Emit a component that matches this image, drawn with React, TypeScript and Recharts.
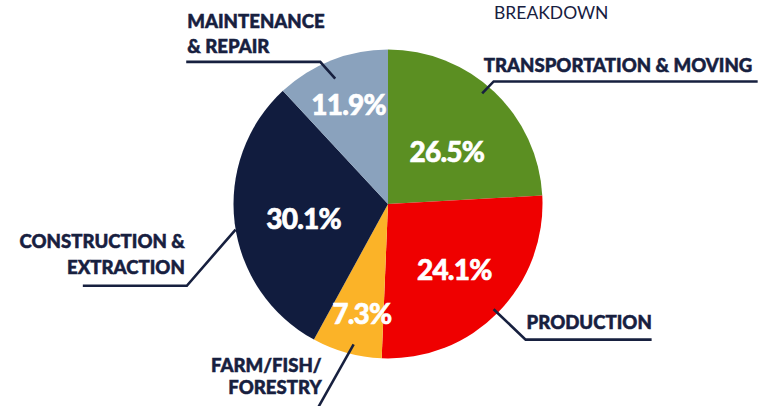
import React from "react";
import { PieChart, Pie, Cell } from "recharts";

const categories = [
  "TRANSPORTATION & MOVING",
  "PRODUCTION",
  "FARM/FISH/FORESTRY",
  "CONSTRUCTION & EXTRACTION",
  "MAINTENANCE & REPAIR",
];
const categoryLines = [
  ["TRANSPORTATION & MOVING"],
  ["PRODUCTION"],
  ["FARM/FISH/", "FORESTRY"],
  ["CONSTRUCTION &", "EXTRACTION"],
  ["MAINTENANCE", "& REPAIR"],
];
// slice sizes as drawn
const sliceValues = [24.1, 26.5, 7.3, 30.1, 11.9];
// percentages as printed on the slices
const shownPercents = ["26.5%", "24.1%", "7.3%", "30.1%", "11.9%"];
const title = "BREAKDOWN";

const colors = ["#5b8f22", "#ef0000", "#fbb328", "#111c3e", "#8aa2bd"];
const NAVY = "#17203f";

const data = categories.map((name, i) => ({ name, value: sliceValues[i] }));

const pctPos = [
  { da: -4.8, k: 0.511 },
  { da: 0.2, k: 0.6 },
  { da: 2, k: 0.725 },
  { da: 2, k: 0.553 },
  { da: 0, k: 0.698 },
];
const leaderCfg = [
  { da: 3, k: 0.94, ex: 11.5, ey: -12, len: 264, anchor: "start", tx: -10, ty: [-9.5] },
  { da: -0.3, k: 0.965, ex: 32, ey: 30.4, len: 126, anchor: "start", tx: 1, ty: [-11] },
  { da: 1.75, k: 0.936, ex: -35.5, ey: 63, len: 0, anchor: "end", tx: 3.5, ty: [-35, -13] },
  { da: 2.4, k: 1.0, ex: -48.8, ey: 56.2, len: -104, anchor: "end", tx: -2, ty: [-38, -12] },
  { da: 1.4, k: 0.88, ex: -15, ey: -16.8, len: -134, anchor: "start", tx: -133, ty: [-34, -9] },
];

const RAD = Math.PI / 180;

const renderLabel = (props: any) => {
  const { cx, cy, midAngle, outerRadius, index } = props;
  const p = pctPos[index];
  const pa = (midAngle + p.da) * RAD;
  const px = cx + outerRadius * p.k * Math.cos(pa);
  const py = cy - outerRadius * p.k * Math.sin(pa);
  const L = leaderCfg[index];
  const la = (midAngle + L.da) * RAD;
  const sx = cx + outerRadius * L.k * Math.cos(la);
  const sy = cy - outerRadius * L.k * Math.sin(la);
  const exx = sx + L.ex;
  const eyy = sy + L.ey;
  const lines = categoryLines[index];
  return (
    <g key={`lbl-${index}`}>
      <text
        x={px}
        y={py}
        fill="#ffffff"
        stroke="#ffffff"
        strokeWidth={0.6}
        textAnchor="middle"
        dominantBaseline="central"
        style={{ fontFamily: "Lato", fontWeight: 900, fontSize: 28, letterSpacing: -0.8 }}
      >
        {shownPercents[index]}
      </text>
      <polyline
        points={`${sx},${sy} ${exx},${eyy} ${exx + L.len},${eyy}`}
        fill="none"
        stroke={NAVY}
        strokeWidth={2.6}
      />
      {lines.map((ln, j) => (
        <text
          key={j}
          x={exx + L.tx}
          y={eyy + L.ty[j]}
          fill={NAVY}
          stroke={NAVY}
          strokeWidth={0.5}
          textAnchor={L.anchor as any}
          style={{ fontFamily: "Lato", fontWeight: 900, fontSize: 18.6 }}
        >
          {ln}
        </text>
      ))}
    </g>
  );
};

export default function App() {
  return (
    <div style={{ position: "absolute", left: 0, top: 0, width: 773, height: 406, background: "#fff" }}>
      <PieChart width={773} height={406} margin={{ top: 0, right: 0, bottom: 0, left: 0 }}>
        <text
          x={494}
          y={19}
          fill={NAVY}
          style={{ fontFamily: "Lato", fontWeight: 400, fontSize: 17.5 }}
        >
          {title}
        </text>
        <Pie
          data={data}
          dataKey="value"
          nameKey="name"
          cx={388}
          cy={204}
          outerRadius={154.5}
          innerRadius={0}
          startAngle={90}
          endAngle={-270}
          stroke="none"
          label={renderLabel}
          labelLine={false}
          isAnimationActive={false}
        >
          {data.map((d, i) => (
            <Cell key={d.name} fill={colors[i]} />
          ))}
        </Pie>
      </PieChart>
    </div>
  );
}
